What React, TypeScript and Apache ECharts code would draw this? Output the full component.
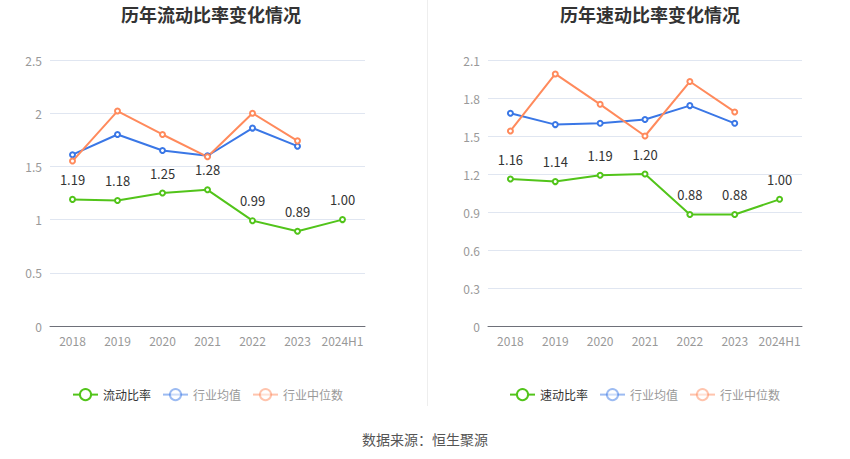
import React, { useEffect, useRef } from "react";
import * as echarts from "echarts";

const categories = ["2018", "2019", "2020", "2021", "2022", "2023", "2024H1"];
const currentRatio = [1.19, 1.18, 1.25, 1.28, 0.99, 0.89, 1.0];
const currentIndustryAvg = [1.61, 1.8, 1.65, 1.6, 1.86, 1.69];
const currentIndustryMedian = [1.55, 2.02, 1.8, 1.59, 2.0, 1.74];
const quickRatio = [1.16, 1.14, 1.19, 1.2, 0.88, 0.88, 1.0];
const quickIndustryAvg = [1.68, 1.59, 1.6, 1.63, 1.74, 1.6];
const quickIndustryMedian = [1.54, 1.99, 1.75, 1.5, 1.93, 1.69];

const titles = ["历年流动比率变化情况", "历年速动比率变化情况"];
const legendLeft = ["流动比率", "行业均值", "行业中位数"];
const legendRight = ["速动比率", "行业均值", "行业中位数"];
const source = "数据来源：恒生聚源";

const GREEN = "#52c41a";
const BLUE = "#3a77e6";
const ORANGE = "#ff8a5c";

export default function App() {
  const ref = useRef<HTMLDivElement>(null);
  useEffect(() => {
    if (!ref.current) return;
    const chart = echarts.init(ref.current, null, { renderer: "svg" });
    const font = "'Microsoft YaHei', 'Noto Sans CJK SC', sans-serif";
    const axisX = (gridIndex: number) => ({
      type: "category",
      gridIndex,
      data: categories,
      boundaryGap: true,
      axisLine: { lineStyle: { color: "#6e7079" } },
      axisTick: { alignWithLabel: true, lineStyle: { color: "#6e7079" } },
      axisLabel: { color: "#999", fontSize: 12, fontFamily: font, margin: 8, interval: 0 },
    });
    const axisY = (gridIndex: number, max: number, interval: number) => ({
      type: "value",
      gridIndex,
      min: 0,
      max,
      interval,
      axisLine: { show: false },
      axisTick: { show: false },
      splitLine: { lineStyle: { color: "#e0e6f1" } },
      axisLabel: { color: "#999", fontSize: 12, fontFamily: font, margin: 8 },
    });
    const mainSeries = (name: string, data: number[], idx: number) => ({
      name,
      type: "line",
      xAxisIndex: idx,
      yAxisIndex: idx,
      data,
      symbol: "emptyCircle",
      symbolSize: 5,
      lineStyle: { color: GREEN, width: 2 },
      itemStyle: { color: GREEN },
      label: {
        show: true,
        position: "top",
        distance: 10,
        color: "#333",
        fontSize: 13,
        fontFamily: font,
        formatter: (p: any) => Number(p.value).toFixed(2),
      },
      z: 3,
    });
    const sideSeries = (name: string, data: number[], idx: number, color: string) => ({
      name,
      type: "line",
      xAxisIndex: idx,
      yAxisIndex: idx,
      data,
      symbol: "emptyCircle",
      symbolSize: 5,
      lineStyle: { color, width: 2 },
      itemStyle: { color },
      label: { show: false },
    });
    const legendOf = (names: string[], left: number) => ({
      left,
      top: 383,
      itemWidth: 25,
      itemHeight: 14,
      itemGap: 11,
      textStyle: { fontSize: 12, fontFamily: font, color: "#999" },
      data: [
        { name: names[0], textStyle: { color: "#333" } },
        { name: names[1], itemStyle: { opacity: 0.5 }, lineStyle: { opacity: 0.5 } },
        { name: names[2], itemStyle: { opacity: 0.5 }, lineStyle: { opacity: 0.5 } },
      ],
      selectedMode: false,
    });
    chart.setOption({
      animation: false,
      backgroundColor: "#fff",
      title: [
        {
          text: titles[0],
          left: 206,
          top: 0,
          textAlign: "center",
          textStyle: { fontSize: 18, fontWeight: "bold", color: "#333", fontFamily: font },
        },
        {
          text: titles[1],
          left: 645,
          top: 0,
          textAlign: "center",
          textStyle: { fontSize: 18, fontWeight: "bold", color: "#333", fontFamily: font },
        },
      ],
      grid: [
        { left: 50, right: 485, top: 60, bottom: 133 },
        { left: 488, right: 48, top: 60, bottom: 133 },
      ],
      xAxis: [axisX(0), axisX(1)],
      yAxis: [axisY(0, 2.5, 0.5), axisY(1, 2.1, 0.3)],
      legend: [legendOf(legendLeft, 67), legendOf(legendRight, 504)],
      series: [
        sideSeries("行业均值", currentIndustryAvg, 0, BLUE),
        sideSeries("行业中位数", currentIndustryMedian, 0, ORANGE),
        mainSeries(legendLeft[0], currentRatio, 0),
        sideSeries("行业均值", quickIndustryAvg, 1, BLUE),
        sideSeries("行业中位数", quickIndustryMedian, 1, ORANGE),
        mainSeries(legendRight[0], quickRatio, 1),
      ],
      graphic: [
        {
          type: "line",
          shape: { x1: 427.5, y1: 0, x2: 427.5, y2: 406 },
          style: { stroke: "#eeeeee", lineWidth: 1 },
        },
        {
          type: "text",
          x: 425,
          y: 439,
          style: {
            text: source,
            fill: "#555",
            fontSize: 14,
            fontFamily: font,
            textAlign: "center",
            textVerticalAlign: "middle",
          },
        },
      ],
    });
    return () => chart.dispose();
  }, []);
  return (
    <div
      ref={ref}
      style={{ position: "fixed", left: 0, top: 0, width: 850, height: 459 }}
    />
  );
}
